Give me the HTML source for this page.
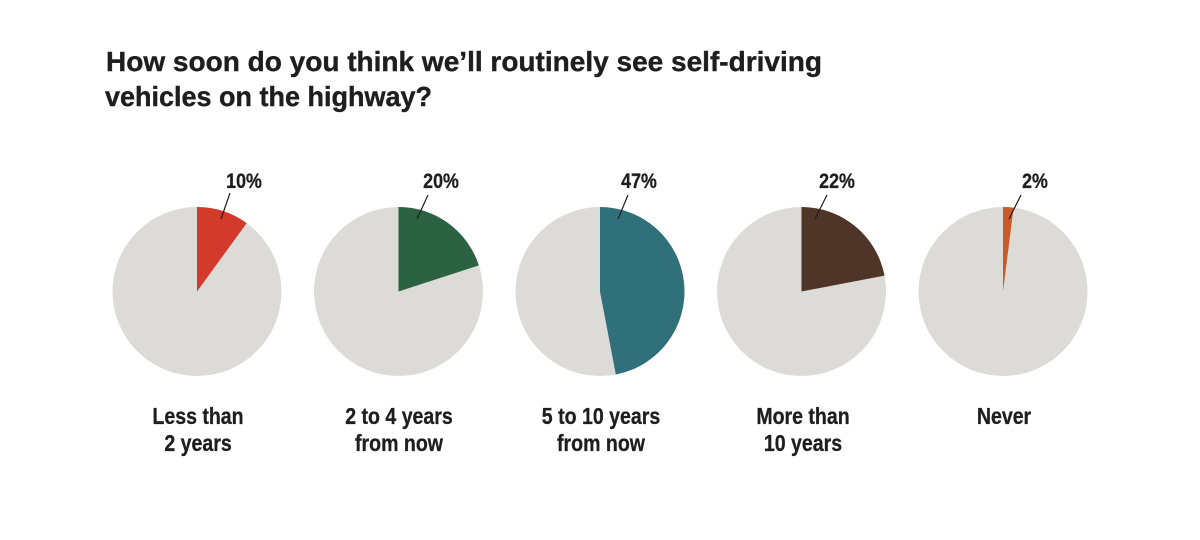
<!DOCTYPE html>
<html>
<head>
<meta charset="utf-8">
<style>
  html, body { margin: 0; padding: 0; background: #ffffff; }
  body { width: 1200px; height: 540px; overflow: hidden; }
  svg { display: block; }
  .title { font-family: "Liberation Sans", sans-serif; font-weight: bold; font-size: 28px; fill: #1e1e1e; stroke: #1e1e1e; stroke-width: 0.4px; }
  .pct { font-family: "Liberation Sans", sans-serif; font-weight: bold; font-size: 21px; fill: #1e1e1e; stroke: #1e1e1e; stroke-width: 0.3px; }
  .lab { font-family: "Liberation Sans", sans-serif; font-weight: bold; font-size: 23px; fill: #1e1e1e; stroke: #1e1e1e; stroke-width: 0.3px; }
</style>
</head>
<body>
<svg width="1200" height="540" viewBox="0 0 1200 540" xmlns="http://www.w3.org/2000/svg">
  <rect width="1200" height="540" fill="#ffffff"/>
  <text class="title" x="106" y="71" textLength="716" lengthAdjust="spacingAndGlyphs">How soon do you think we’ll routinely see self-driving</text>
  <text class="title" x="105" y="106" textLength="327" lengthAdjust="spacingAndGlyphs">vehicles on the highway?</text>

  <!-- Pie 1: 10% -->
  <circle cx="197" cy="291.5" r="84.5" fill="#dddbd8"/>
  <path d="M197,291.5 L197,207 A84.5,84.5 0 0,1 246.67,223.14 Z" fill="#d33a2b"/>
  <line x1="230" y1="193" x2="221" y2="219" stroke="#1e1e1e" stroke-width="1.2"/>
  <g transform="translate(244,0) scale(0.85,1)"><text class="pct" x="0" y="188" text-anchor="middle">10%</text></g>
  <g transform="translate(198,0) scale(0.85,1)">
    <text class="lab" x="0" y="424" text-anchor="middle">Less than</text>
    <text class="lab" x="0" y="451" text-anchor="middle">2 years</text>
  </g>

  <!-- Pie 2: 20% -->
  <circle cx="398.5" cy="291.5" r="84.5" fill="#dddbd8"/>
  <path d="M398.5,291.5 L398.5,207 A84.5,84.5 0 0,1 478.87,265.39 Z" fill="#2b6242"/>
  <line x1="428" y1="195" x2="417" y2="219" stroke="#1e1e1e" stroke-width="1.2"/>
  <g transform="translate(441,0) scale(0.85,1)"><text class="pct" x="0" y="188" text-anchor="middle">20%</text></g>
  <g transform="translate(399,0) scale(0.85,1)">
    <text class="lab" x="0" y="424" text-anchor="middle">2 to 4 years</text>
    <text class="lab" x="0" y="451" text-anchor="middle">from now</text>
  </g>

  <!-- Pie 3: 47% -->
  <circle cx="600" cy="291.5" r="84.5" fill="#dddbd8"/>
  <path d="M600,291.5 L600,207 A84.5,84.5 0 0,1 615.83,374.5 Z" fill="#30707b"/>
  <line x1="628" y1="195" x2="618" y2="219" stroke="#1e1e1e" stroke-width="1.2"/>
  <g transform="translate(639,0) scale(0.85,1)"><text class="pct" x="0" y="188" text-anchor="middle">47%</text></g>
  <g transform="translate(601,0) scale(0.85,1)">
    <text class="lab" x="0" y="424" text-anchor="middle">5 to 10 years</text>
    <text class="lab" x="0" y="451" text-anchor="middle">from now</text>
  </g>

  <!-- Pie 4: 22% -->
  <circle cx="801.5" cy="291.5" r="84.5" fill="#dddbd8"/>
  <path d="M801.5,291.5 L801.5,207 A84.5,84.5 0 0,1 884.5,275.67 Z" fill="#4f3428"/>
  <line x1="827" y1="195" x2="815" y2="219" stroke="#1e1e1e" stroke-width="1.2"/>
  <g transform="translate(837,0) scale(0.85,1)"><text class="pct" x="0" y="188" text-anchor="middle">22%</text></g>
  <g transform="translate(803,0) scale(0.85,1)">
    <text class="lab" x="0" y="424" text-anchor="middle">More than</text>
    <text class="lab" x="0" y="451" text-anchor="middle">10 years</text>
  </g>

  <!-- Pie 5: 2% -->
  <circle cx="1003" cy="291.5" r="84.5" fill="#dddbd8"/>
  <path d="M1003,291.5 L1003,207 A84.5,84.5 0 0,1 1013.59,207.67 Z" fill="#c75b2a"/>
  <line x1="1021" y1="195" x2="1009" y2="219" stroke="#1e1e1e" stroke-width="1.2"/>
  <g transform="translate(1035,0) scale(0.85,1)"><text class="pct" x="0" y="188" text-anchor="middle">2%</text></g>
  <g transform="translate(1004,0) scale(0.85,1)">
    <text class="lab" x="0" y="424" text-anchor="middle">Never</text>
  </g>
</svg>
</body>
</html>
